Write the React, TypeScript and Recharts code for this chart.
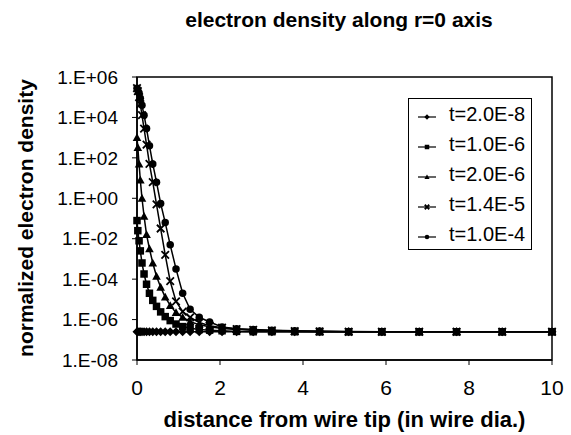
import React from "react";
import { LineChart, Line, XAxis, YAxis, Legend, ReferenceArea } from "recharts";

const FONT = '"Liberation Sans", Arial, Helvetica, sans-serif';

// distance from wire tip (in wire diameters)
const distances = [
  0, 0.02, 0.05, 0.08, 0.12, 0.17, 0.23, 0.3, 0.38, 0.47, 0.57, 0.68, 0.8, 0.94, 1.1,
  1.28, 1.5, 1.75, 2.05, 2.4, 2.8, 3.25, 3.8, 4.4, 5.1, 5.9, 6.8, 7.7, 8.8, 10,
];

// normalized electron density per time step
const t2e8 = [
  2.5e-7, 2.5e-7, 2.5e-7, 2.5e-7, 2.5e-7, 2.5e-7, 2.5e-7, 2.5e-7, 2.5e-7, 2.5e-7,
  2.5e-7, 2.5e-7, 2.5e-7, 2.5e-7, 2.5e-7, 2.5e-7, 2.5e-7, 2.5e-7, 2.5e-7, 2.5e-7,
  2.5e-7, 2.5e-7, 2.5e-7, 2.5e-7, 2.5e-7, 2.5e-7, 2.5e-7, 2.5e-7, 2.5e-7, 2.5e-7,
];
const t1e6 = [
  7.9e-2, 2.5e-2, 7.9e-3, 2.5e-3, 6.3e-4, 1.8e-4, 5.6e-5, 2.0e-5, 8.9e-6, 4.5e-6,
  2.4e-6, 1.4e-6, 8.9e-7, 6.0e-7, 4.5e-7, 3.7e-7, 3.2e-7, 3.0e-7, 2.8e-7, 2.6e-7,
  2.5e-7, 2.5e-7, 2.5e-7, 2.5e-7, 2.5e-7, 2.5e-7, 2.5e-7, 2.5e-7, 2.5e-7, 2.5e-7,
];
const t2e6 = [
  1.0e3, 3.2e2, 5.0e1, 7.9, 1.0, 1.3e-1, 1.6e-2, 3.2e-3, 6.3e-4, 1.4e-4,
  4.0e-5, 1.3e-5, 5.0e-6, 2.2e-6, 1.3e-6, 7.9e-7, 5.6e-7, 4.4e-7, 3.6e-7, 3.2e-7,
  3.0e-7, 2.8e-7, 2.6e-7, 2.5e-7, 2.5e-7, 2.5e-7, 2.5e-7, 2.5e-7, 2.5e-7, 2.5e-7,
];
const t14e5 = [
  2.8e5, 2.0e5, 1.0e5, 4.5e4, 1.3e4, 2.8e3, 4.5e2, 5.0e1, 6.3, 5.0e-1,
  3.2e-2, 1.6e-3, 7.9e-5, 7.9e-6, 2.5e-6, 1.3e-6, 7.1e-7, 5.0e-7, 4.0e-7, 3.4e-7,
  3.1e-7, 2.9e-7, 2.7e-7, 2.6e-7, 2.5e-7, 2.5e-7, 2.5e-7, 2.5e-7, 2.5e-7, 2.5e-7,
];
const t1e4 = [
  2.8e5, 2.2e5, 1.6e5, 8.9e4, 4.0e4, 1.3e4, 2.8e3, 4.0e2, 5.0e1, 6.3,
  5.6e-1, 6.3e-2, 5.0e-3, 3.2e-4, 2.0e-5, 3.2e-6, 1.3e-6, 7.6e-7, 4.3e-7, 3.5e-7,
  3.2e-7, 3.0e-7, 2.8e-7, 2.7e-7, 2.6e-7, 2.5e-7, 2.5e-7, 2.5e-7, 2.5e-7, 2.5e-7,
];

const seriesNames = ["t=2.0E-8", "t=1.0E-6", "t=2.0E-6", "t=1.4E-5", "t=1.0E-4"];
const seriesShapes = ["diamond", "square", "triangle", "cross", "circle"];

const xTicks = [0, 2, 4, 6, 8, 10];
const yTicks = [1e-8, 1e-6, 1e-4, 1e-2, 1, 1e2, 1e4, 1e6];
const yTickLabels = ["1.E-08", "1.E-06", "1.E-04", "1.E-02", "1.E+00", "1.E+02", "1.E+04", "1.E+06"];

const rows = distances.map((x, i) => ({
  x,
  s0: t2e8[i],
  s1: t1e6[i],
  s2: t2e6[i],
  s3: t14e5[i],
  s4: t1e4[i],
}));

function Marker({ shape, cx, cy, size }: { shape: string; cx: number; cy: number; size: number }) {
  const r = size / 2;
  if (shape === "diamond") {
    const d = r * 1.2;
    return <polygon points={`${cx},${cy - d} ${cx + d},${cy} ${cx},${cy + d} ${cx - d},${cy}`} fill="#000" />;
  }
  if (shape === "square") {
    return <rect x={cx - r} y={cy - r} width={size} height={size} fill="#000" />;
  }
  if (shape === "triangle") {
    const d = r * 1.15;
    return <polygon points={`${cx},${cy - d} ${cx + d},${cy + d * 0.8} ${cx - d},${cy + d * 0.8}`} fill="#000" />;
  }
  if (shape === "cross") {
    return (
      <path
        d={`M${cx - r},${cy - r}L${cx + r},${cy + r}M${cx - r},${cy + r}L${cx + r},${cy - r}`}
        stroke="#000"
        strokeWidth={1.8}
      />
    );
  }
  return <circle cx={cx} cy={cy} r={r} fill="#000" />;
}

function makeDot(shape: string) {
  return (p: any) => {
    if (p.cx == null || p.cy == null) return <g key={`${shape}-${p.index}`} />;
    return (
      <g key={`${shape}-${p.index}`}>
        <Marker shape={shape} cx={p.cx} cy={p.cy} size={7.5} />
      </g>
    );
  };
}

function LegendBox() {
  return (
    <div
      style={{
        width: "100%",
        height: "100%",
        boxSizing: "border-box",
        border: "1px solid #000",
        background: "#fff",
        fontFamily: FONT,
      }}
    >
      {seriesNames.map((name, i) => (
        <div key={name} style={{ display: "flex", alignItems: "center", height: 30 }}>
          <svg width={34} height={30} style={{ marginLeft: 6, flex: "none" }}>
            <line x1={3} x2={21} y1={18} y2={18} stroke="#000" strokeWidth={1.2} />
            <Marker shape={seriesShapes[i]} cx={12} cy={18} size={4.5} />
          </svg>
          <span style={{ fontSize: 20, color: "#000", lineHeight: "30px" }}>{name}</span>
        </div>
      ))}
    </div>
  );
}

function labelFor(v: number) {
  const i = yTicks.findIndex((t) => Math.abs(Math.log10(t) - Math.log10(v)) < 1e-6);
  return i >= 0 ? yTickLabels[i] : "";
}

export default function App() {
  return (
    <div style={{ position: "absolute", left: 0, top: 0, width: 571, height: 435, background: "#fff" }}>
      <div
        style={{
          position: "absolute",
          left: 139,
          top: 9,
          width: 400,
          textAlign: "center",
          fontFamily: FONT,
          fontWeight: "bold",
          fontSize: 21,
          lineHeight: "21px",
          color: "#000",
        }}
      >
        electron density along r=0 axis
      </div>
      <LineChart
        width={571}
        height={435}
        data={rows}
        margin={{ top: 77, right: 19, left: 0, bottom: 0 }}
      >
        <XAxis
          dataKey="x"
          type="number"
          domain={[0, 10]}
          ticks={xTicks}
          interval={0}
          height={75}
          tickSize={5}
          tickMargin={15}
          axisLine={{ stroke: "#000", strokeWidth: 1.5 }}
          tickLine={{ stroke: "#000" }}
          tick={{ fill: "#000", fontSize: 21, fontFamily: FONT }}
          label={() => (
            <text
              x={344.5}
              y={427}
              textAnchor="middle"
              fontFamily={FONT}
              fontWeight="bold"
              fontSize={22}
              fill="#000"
            >
              distance from wire tip (in wire dia.)
            </text>
          )}
        />
        <YAxis
          type="number"
          scale="log"
          domain={[1e-8, 1e6]}
          ticks={yTicks}
          interval={0}
          width={137}
          tickSize={5}
          tickMargin={14}
          tickFormatter={labelFor}
          axisLine={{ stroke: "#000", strokeWidth: 1.5 }}
          tickLine={{ stroke: "#000" }}
          tick={{ fill: "#000", fontSize: 19, fontFamily: FONT }}
          label={() => (
            <text
              transform="translate(33,218) rotate(-90)"
              textAnchor="middle"
              fontFamily={FONT}
              fontWeight="bold"
              fontSize={21}
              fill="#000"
            >
              normalized electron density
            </text>
          )}
        />
        <ReferenceArea x1={0} x2={10} y1={1e-8} y2={1e6} fill="none" stroke="#000" strokeWidth={1.5} />
        {seriesNames.map((name, i) => (
          <Line
            key={name}
            dataKey={`s${i}`}
            name={name}
            type="linear"
            stroke="#000"
            strokeWidth={1.5}
            dot={makeDot(seriesShapes[i])}
            activeDot={false}
            isAnimationActive={false}
          />
        ))}
        <Legend
          layout="vertical"
          align="center"
          verticalAlign="middle"
          content={() => <LegendBox />}
          wrapperStyle={{ left: 408, top: 98, width: 124, height: 152 }}
        />
      </LineChart>
    </div>
  );
}
